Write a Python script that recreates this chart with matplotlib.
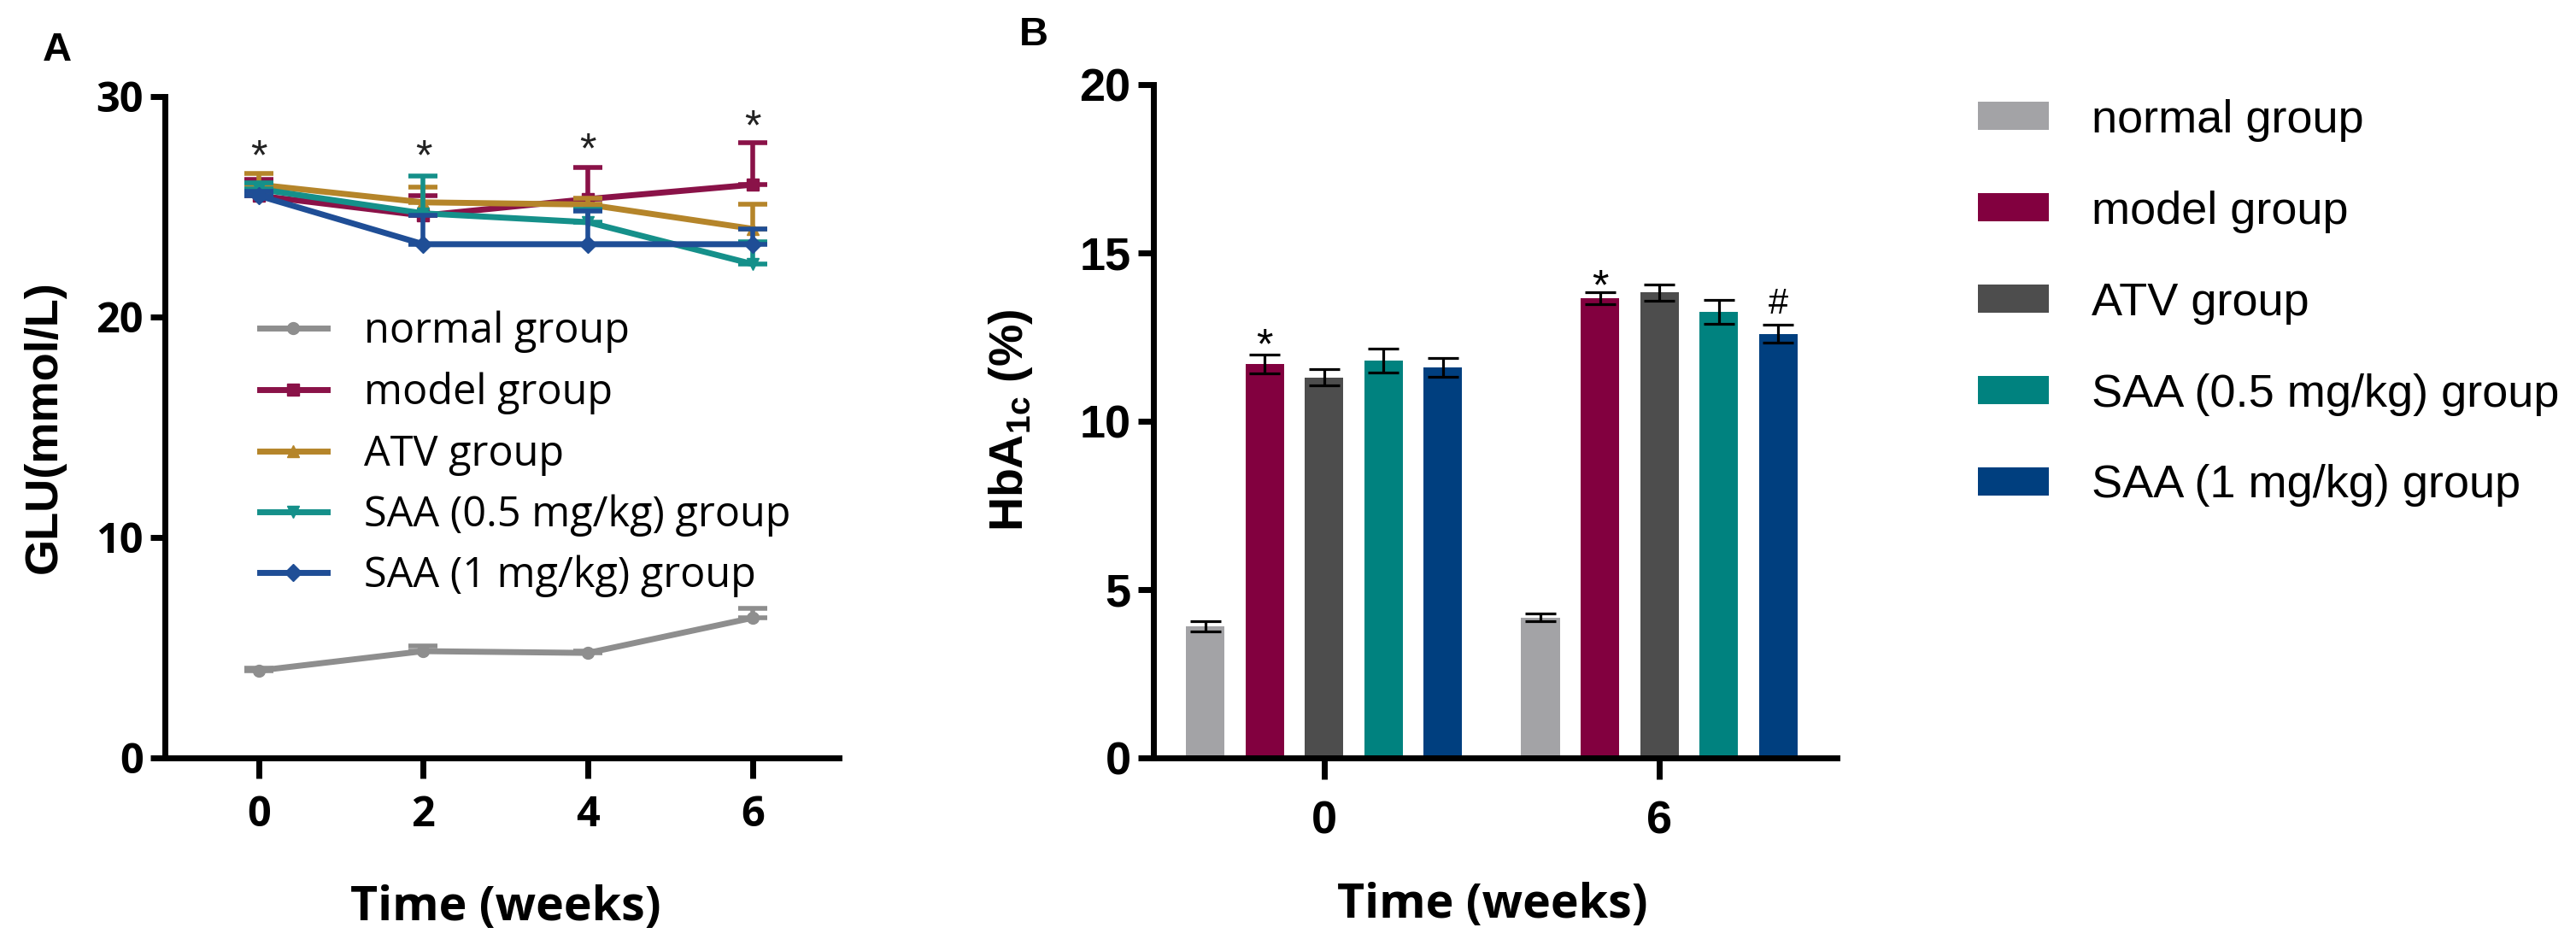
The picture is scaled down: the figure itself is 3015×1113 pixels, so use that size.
import matplotlib
matplotlib.use("Agg")
import matplotlib.pyplot as plt
import numpy as np
from matplotlib.lines import Line2D
from matplotlib.patches import Patch

plt.rcParams["mathtext.fontset"] = "custom"
plt.rcParams["mathtext.rm"] = "Liberation Sans"
plt.rcParams["mathtext.bf"] = "Liberation Sans:bold"

# ---- data: panel A (blood glucose, mmol/L) ----
weeks = [0, 2, 4, 6]
groups = ["normal group", "model group", "ATV group",
          "SAA (0.5 mg/kg) group", "SAA (1 mg/kg) group"]
glu_normal = [3.96, 4.84, 4.76, 6.35]
glu_model = [25.5, 24.6, 25.35, 26.0]
glu_atv = [26.0, 25.2, 25.1, 24.0]
glu_saa05 = [25.8, 24.7, 24.3, 22.4]
glu_saa1 = [25.5, 23.3, 23.3, 23.3]
err_normal = [0.1, 0.25, 0.1, 0.45]
err_model = [0.75, 0.9, 1.45, 1.9]
err_atv = [0.5, 0.7, 0.3, 1.1]
err_saa05 = [0.3, 1.7, 0.6, 1.0]
err_saa1 = [0.2, 1.3, 1.5, 0.7]
star_y_a = [27.2, 27.2, 27.5, 28.55]

# ---- data: panel B (HbA1c, %) ----
time_labels = ["0", "6"]
hba_normal = [3.90, 4.17]
hba_model = [11.71, 13.65]
hba_atv = [11.30, 13.83]
hba_saa05 = [11.80, 13.25]
hba_saa1 = [11.60, 12.60]
herr_normal = [0.15, 0.12]
herr_model = [0.28, 0.18]
herr_atv = [0.24, 0.24]
herr_saa05 = [0.35, 0.35]
herr_saa1 = [0.27, 0.26]

line_colors = ["#8e8e8e", "#8a1248", "#b5852a", "#15908a", "#1f4e96"]
bar_colors = ["#a3a3a6", "#82003f", "#4d4d4d", "#00827f", "#003f7f"]
markers = ["o", "s", "^", "v", "D"]

OPEN = "Open Sans"
LIB = "Liberation Sans"

fig = plt.figure(figsize=(30.15, 11.13), dpi=100)

# ================= panel A =================
axA = fig.add_axes([0.064, 0.2031, 0.2617, 0.6954])
seriesA = [glu_normal, glu_model, glu_atv, glu_saa05, glu_saa1]
errA = [err_normal, err_model, err_atv, err_saa05, err_saa1]
for idx in [0, 4, 3, 2, 1]:
    vals, errs = seriesA[idx], errA[idx]
    axA.errorbar(weeks, vals, yerr=[np.zeros(len(errs)), errs],
                 color=line_colors[idx], lw=5, marker=markers[idx], ms=10,
                 elinewidth=4, capsize=12, capthick=4, zorder=3 + idx)

for x, y in zip(weeks, star_y_a):
    axA.text(x, y, "*", ha="center", va="center", fontsize=36,
             family=LIB, color="#222222")

axA.set_xlim(-1.14, 7.05)
axA.set_ylim(0, 30)
axA.set_xticks(weeks)
axA.set_yticks([0, 10, 20, 30])
for s in ["top", "right"]:
    axA.spines[s].set_visible(False)
for s in ["left", "bottom"]:
    axA.spines[s].set_linewidth(5)
axA.tick_params(axis="y", length=12, width=5, pad=6)
axA.tick_params(axis="x", length=17, width=5, pad=14)
for lab in axA.get_xticklabels() + axA.get_yticklabels():
    lab.set_fontfamily(OPEN)
    lab.set_fontweight("bold")
    lab.set_fontsize(35)

handlesA = [Line2D([0], [0], color=line_colors[i], lw=5, marker=markers[i], ms=10)
            for i in range(5)]
fig.legend(handlesA, groups, loc="upper left",
           bbox_to_anchor=(0.1008, 0.673), frameon=False,
           prop={"family": OPEN, "size": 35}, handlelength=1.62,
           handletextpad=0.9, labelspacing=0.45, borderpad=0,
           borderaxespad=0)

fig.text(0.017, 0.551, "GLU(mmol/L)", rotation=90, ha="center", va="center",
         fontsize=39, family=LIB, fontweight="bold")
fig.text(0.1963, 0.045, "Time (weeks)", ha="center", va="center",
         fontsize=40, family=OPEN, fontweight="bold")
fig.text(0.0222, 0.947, "A", ha="center", va="center",
         fontsize=34, family=LIB, fontweight="bold")

# ================= panel B =================
axB = fig.add_axes([0.4478, 0.2031, 0.2653, 0.7079])
seriesB = [hba_normal, hba_model, hba_atv, hba_saa05, hba_saa1]
errB = [herr_normal, herr_model, herr_atv, herr_saa05, herr_saa1]
centers = np.arange(len(time_labels))
pitch = 0.1772
width = 0.115
for i in range(5):
    xs = centers + (i - 2) * pitch
    axB.bar(xs, seriesB[i], width=width, color=bar_colors[i], label=groups[i],
            zorder=2)
    axB.errorbar(xs, seriesB[i], yerr=errB[i], fmt="none", ecolor="black",
                 elinewidth=2.3, capsize=13, capthick=2.3, zorder=3)

# significance marks
axB.text(centers[0] - pitch, 12.2, "*", ha="center", va="center",
         fontsize=36, family=LIB)
axB.text(centers[1] - pitch, 13.95, "*", ha="center", va="center",
         fontsize=36, family=LIB)
axB.text(centers[1] + 2 * pitch, 13.47, "#", ha="center", va="center",
         fontsize=30, family=LIB)

axB.set_xlim(-0.509, 1.53)
axB.set_ylim(0, 20)
axB.set_xticks(centers)
axB.set_xticklabels(time_labels)
axB.set_yticks([0, 5, 10, 15, 20])
for s in ["top", "right"]:
    axB.spines[s].set_visible(False)
for s in ["left", "bottom"]:
    axB.spines[s].set_linewidth(5)
axB.tick_params(axis="y", length=13, width=5, pad=6)
axB.tick_params(axis="x", length=18, width=5, pad=18)
for lab in axB.get_xticklabels() + axB.get_yticklabels():
    lab.set_fontfamily(LIB)
    lab.set_fontweight("bold")
    lab.set_fontsize(39)

handlesB = [Patch(facecolor=bar_colors[i]) for i in range(5)]
fig.legend(handlesB, groups, loc="upper left", bbox_to_anchor=(0.7678, 0.8958),
           frameon=False, prop={"family": LIB, "size": 39}, handlelength=1.53,
           handleheight=0.55, handletextpad=0.92, labelspacing=1.05,
           borderpad=0, borderaxespad=0)

fig.text(0.3924, 0.558, r"HbA$_{\mathbf{1c}}$ (%)", rotation=90, ha="center",
         va="center", fontsize=40, family=LIB, fontweight="bold")
fig.text(0.5794, 0.048, "Time (weeks)", ha="center", va="center",
         fontsize=40, family=OPEN, fontweight="bold")
fig.text(0.4013, 0.963, "B", ha="center", va="center",
         fontsize=34, family=LIB, fontweight="bold")

fig.savefig("out.png", dpi=100)
